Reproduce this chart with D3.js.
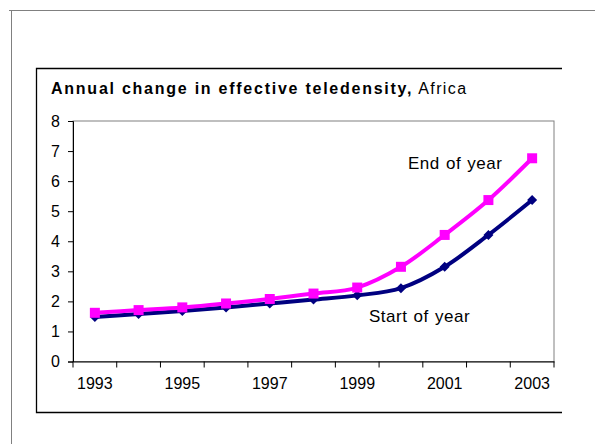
<!DOCTYPE html>
<html><head><meta charset="utf-8">
<script src="https://cdn.jsdelivr.net/npm/d3@7"></script>
<style>body{margin:0;background:#fff}svg{display:block}text{font-family:"Liberation Sans",Arial,sans-serif}</style>
</head><body><svg id="c" width="595" height="444"></svg>
<script>
const years = ["1993","1994","1995","1996","1997","1998","1999","2000","2001","2002","2003"];
const startOfYear = [1.48,1.58,1.68,1.80,1.93,2.06,2.20,2.44,3.15,4.21,5.37];
const endOfYear = [1.62,1.71,1.80,1.93,2.08,2.26,2.46,3.15,4.21,5.37,6.76];
const yTicks = [0,1,2,3,4,5,6,7,8];
const xLabels = ["1993","1995","1997","1999","2001","2003"];

const svg = d3.select("#c");
// outer frame
svg.append("path").attr("d","M9,10.5H595M11.5,10.5V444").attr("stroke","#808080").attr("fill","none");
// inner frame
svg.append("path").attr("d","M562,68.5H36.5V412.5H562").attr("stroke","#000").attr("stroke-width",1.3).attr("fill","none");

const L=73, R=554, T=121, B=361.5;
const x = d3.scaleBand().domain(years).range([L,R]);
const y = d3.scaleLinear().domain([0,8]).range([B,T]);

svg.append("rect").attr("x",L).attr("y",T).attr("width",R-L).attr("height",B-T)
  .attr("fill","none").attr("stroke","#808080");

const yAxis = svg.append("g").attr("transform",`translate(${L},0)`)
  .call(d3.axisLeft(y).tickValues(yTicks).tickSize(5).tickPadding(8).tickFormat(d3.format("d")));
const xAxis = svg.append("g").attr("transform",`translate(0,${B})`)
  .call(d3.axisBottom(x).tickSize(0).tickFormat(d=>xLabels.includes(d)?d:"").tickPadding(16));
// ticks between categories
const bounds = years.map(d=>x(d)).concat([R]);
xAxis.selectAll(".bt").data(bounds).enter().append("line").attr("class","bt")
  .attr("x1",d=>d).attr("x2",d=>d).attr("y1",0).attr("y2",6).attr("stroke","#000");
[yAxis,xAxis].forEach(g=>{g.selectAll("text").attr("font-size",16).attr("fill","#000").attr("font-family","Liberation Sans, Arial, sans-serif");
  g.selectAll("line").attr("stroke","#000"); g.select(".domain").attr("stroke","#000");});

const cx = d=>x(d)+x.bandwidth()/2;
const line = d3.line().x(d=>cx(d.year)).y(d=>y(d.v)).curve(d3.curveCardinal.tension(0));
const s1 = years.map((yr,i)=>({year:yr,v:startOfYear[i]}));
const s2 = years.map((yr,i)=>({year:yr,v:endOfYear[i]}));

svg.append("path").datum(s1).attr("d",line).attr("fill","none").attr("stroke","#000080").attr("stroke-width",4);
svg.selectAll(".dm").data(s1).enter().append("path").attr("class","dm")
  .attr("d",d3.symbol().type(d3.symbolSquare).size(50))
  .attr("transform",d=>`translate(${cx(d.year)},${y(d.v)}) rotate(45)`).attr("fill","#000080");

svg.append("path").datum(s2).attr("d",line).attr("fill","none").attr("stroke","#FF00FF").attr("stroke-width",4);
svg.selectAll(".sq").data(s2).enter().append("path").attr("class","sq")
  .attr("d",d3.symbol().type(d3.symbolSquare).size(100))
  .attr("transform",d=>`translate(${cx(d.year)},${y(d.v)})`).attr("fill","#FF00FF");

// title
const t = svg.append("text").attr("x",51).attr("y",94).attr("font-size",16).attr("fill","#000");
t.append("tspan").attr("font-weight","bold").attr("letter-spacing",1.75).text("Annual change in effective teledensity,");
t.append("tspan").attr("letter-spacing",1.4).text(" Africa");

svg.append("text").attr("x",408).attr("y",169).attr("font-size",17).attr("letter-spacing",0.5).attr("word-spacing",1).text("End of year");
svg.append("text").attr("x",369).attr("y",322).attr("font-size",17).attr("letter-spacing",0.5).attr("word-spacing",1).text("Start of year");
</script></body></html>
